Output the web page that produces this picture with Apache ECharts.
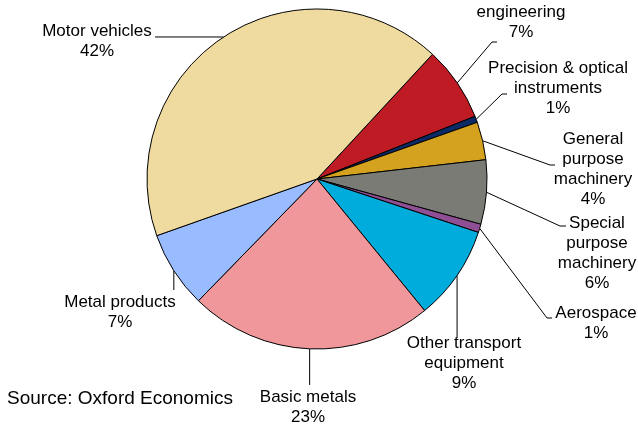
<!DOCTYPE html>
<html>
<head>
<meta charset="utf-8">
<script src="https://cdn.jsdelivr.net/npm/echarts@6/dist/echarts.min.js"></script>
<style>
  html, body { margin: 0; padding: 0; background: #fff; }
  #chart { width: 638px; height: 427px; }
</style>
</head>
<body>
<div id="chart"></div>
<script>
// slices, clockwise from the top-right edge of "Motor vehicles"
const categories = [
  'engineering',
  'Precision & optical\ninstruments',
  'General\npurpose\nmachinery',
  'Special\npurpose\nmachinery',
  'Aerospace',
  'Other transport\nequipment',
  'Basic metals',
  'Metal products',
  'Motor vehicles'
];
const shares = [7.1, 0.6, 3.6, 6.1, 0.8, 9.0, 23.2, 7.3, 42.3];
const colors = ['#be1b24', '#0b2a66', '#d4a21f', '#7b7b76', '#8f4f94', '#00acdb', '#f0979b', '#99bbff', '#efdba0'];

// label placement: centre x, top y, bend point and end of the leader line (null = take from slice point)
const labelPlace = [
  { x: 521, y: 2, bend: [492, 42], end: [497, 42] },
  { x: 558, y: 58, bend: [502, 94], end: [507, 94] },
  { x: 593, y: 129, bend: [550, 165], end: [555, 165] },
  { x: 597, y: 213, bend: [560, 226], end: [566, 226] },
  { x: 596, y: 303, bend: [547, 318], end: [552, 318] },
  { x: 464, y: 333, bend: [null, 338], end: [null, 338] },
  { x: 308, y: 387, bend: [null, 385], end: [null, 385] },
  { x: 120, y: 292, bend: [null, 290], end: [null, 290] },
  { x: 97, y: 21, bend: [155, null], end: [155, null] }
];

const chart = echarts.init(document.getElementById('chart'));

chart.setOption({
  backgroundColor: '#ffffff',
  animation: false,
  textStyle: { fontFamily: 'Liberation Sans, Arial, sans-serif' },
  graphic: [{
    type: 'text',
    left: 7,
    top: 389,
    style: {
      text: 'Source: Oxford Economics',
      font: '19px "Liberation Sans", Arial, sans-serif',
      fill: '#000'
    }
  }],
  series: [{
    type: 'pie',
    center: [317, 179],
    radius: 170,
    startAngle: 47.2,
    clockwise: true,
    avoidLabelOverlap: false,
    data: categories.map((name, i) => ({
      name: name,
      value: shares[i],
      itemStyle: { color: colors[i] }
    })),
    itemStyle: { borderColor: '#000', borderWidth: 1 },
    emphasis: { disabled: true },
    label: {
      show: true,
      position: 'outside',
      formatter: p => p.name + '\n' + Math.round(p.percent) + '%',
      fontFamily: 'Liberation Sans, Arial, sans-serif',
      fontSize: 17,
      lineHeight: 20,
      color: '#000',
      align: 'center'
    },
    labelLine: {
      show: true,
      length: 10,
      length2: 10,
      lineStyle: { color: '#000', width: 1 }
    },
    labelLayout: function (params) {
      const lp = labelPlace[params.dataIndex];
      const p0 = params.labelLinePoints ? params.labelLinePoints[0] : [0, 0];
      const pick = (pt) => [pt[0] == null ? p0[0] : pt[0], pt[1] == null ? p0[1] : pt[1]];
      return {
        x: lp.x,
        y: lp.y,
        align: 'center',
        verticalAlign: 'top',
        labelLinePoints: [p0, pick(lp.bend), pick(lp.end)]
      };
    }
  }]
});
</script>
</body>
</html>
